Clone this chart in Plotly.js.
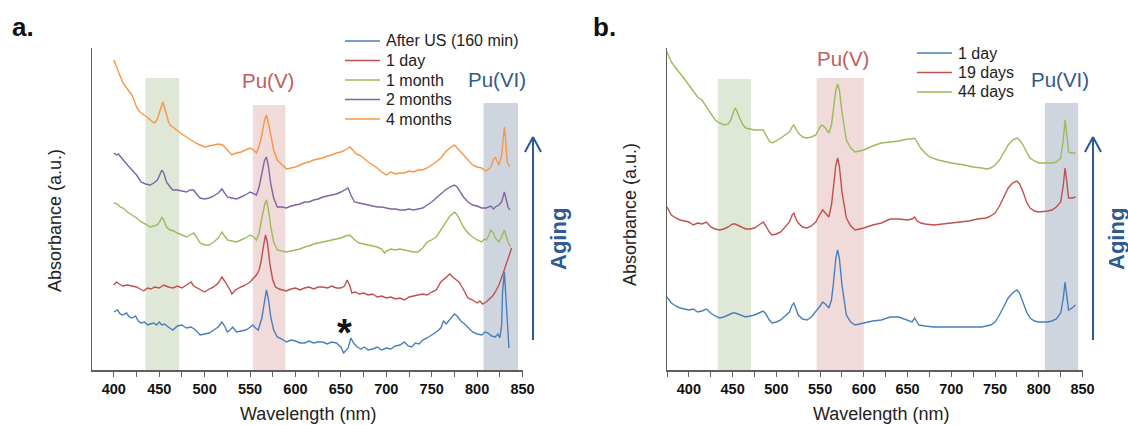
<!DOCTYPE html>
<html>
<head>
<meta charset="utf-8">
<script src="https://cdn.plot.ly/plotly-3.0.1.min.js"></script>
<style>html,body{margin:0;padding:0;background:#fff;}#chart{width:1128px;height:425px;}</style>
</head>
<body>
<div id="chart"></div>
<script>
// ---------- Panel a data (wavelength nm, absorbance a.u., offset stacked) ----------
const aAfterUS_x = [400,404,407,410,414,417,420,424,427,430,434,437,440,444,447,450,453,456,460,465,470,475,480,485,490,495,500,505,510,515,519,522,525,528,531,535,540,545,549,553,556,559,563,566,568,570,573,576,580,585,590,595,600,605,610,615,620,625,630,635,640,645,650,653,656,658,661,664,668,672,676,680,685,690,695,700,705,710,715,720,724,728,732,736,740,745,750,755,760,763,766,770,775,778,782,785,790,795,800,805,809,812,816,820,823,825,827,828,830,832,834,835];
const aAfterUS_y = [58,60,56,55,57,53,52,54,49,47,48,45,46,47,45,48,45,46,43,40,44,45,42,43,40,35,36,37,40,43,48,44,38,40,43,38,39,40,42,45,42,40,52,70,80,72,52,40,33,31,28,30,29,27,27,29,27,28,28,26,28,27,23,17,20,22,32,27,23,21,23,20,21,23,20,22,21,24,25,28,24,23,27,26,30,32,35,38,42,49,46,50,56,54,49,47,42,38,36,35,38,37,34,33,36,32,45,78,98,65,35,22];

const a1day_x = [400,403,406,410,415,420,425,429,433,437,441,445,450,455,460,465,470,475,480,485,488,492,496,500,505,510,515,519,522,525,528,530,534,540,545,550,554,557,560,562,565,567,569,572,575,578,582,586,590,595,600,605,610,615,620,625,630,635,640,645,650,654,657,660,662,666,670,675,680,685,690,695,700,705,710,715,720,725,730,735,740,745,750,755,760,765,768,770,773,776,780,784,787,790,795,800,803,806,810,814,817,820,824,828,831,834,836,838];
const a1day_y = [85,88,86,84,85,84,83,81,79,82,81,83,82,85,83,82,84,82,85,88,84,82,80,78,81,83,87,93,89,85,80,76,80,83,85,88,92,95,100,108,125,135,128,105,90,83,81,80,79,81,82,80,82,83,81,83,83,82,84,82,82,84,90,84,77,78,76,77,75,76,73,74,72,73,71,72,70,73,74,75,76,75,78,80,88,92,95,96,93,91,88,82,77,72,70,67,69,66,68,71,74,78,85,95,103,112,117,122];

const a1month_x = [400,404,407,410,415,420,425,430,435,440,444,448,451,453,455,458,462,466,470,475,480,484,488,491,495,500,505,510,515,519,522,525,530,535,540,545,550,554,557,560,563,566,568,570,573,576,580,585,590,595,600,605,610,615,620,625,630,635,640,645,650,655,660,664,667,670,675,680,685,690,695,698,700,705,710,715,720,725,730,735,740,745,750,755,760,765,770,773,775,778,782,785,790,795,800,805,808,810,813,815,818,820,824,827,830,832,834,837];
const a1month_y = [167,166,163,162,158,155,152,148,146,143,144,145,149,153,150,143,140,139,137,135,133,135,137,133,127,125,125,128,132,138,134,130,129,128,130,132,135,133,130,137,152,165,170,162,142,128,120,119,118,119,120,121,123,124,126,127,128,129,130,131,132,134,135,131,129,127,126,125,124,123,121,117,119,121,120,121,120,119,118,118,122,128,130,133,140,147,154,156,158,155,148,143,137,133,130,128,131,130,135,140,137,132,128,133,140,134,128,123];

const a2months_x = [400,403,405,410,415,420,425,430,435,440,444,448,451,453,455,458,462,465,470,475,480,484,488,491,495,500,505,510,515,519,522,525,530,535,540,545,550,554,557,560,563,566,568,570,573,576,580,585,590,595,600,605,610,615,620,625,630,635,640,645,650,655,658,661,665,670,675,680,685,690,695,700,705,710,715,720,725,730,735,740,745,750,755,760,765,770,775,778,782,785,790,795,800,805,810,815,818,820,824,827,830,832,834,836];
const a2months_y = [217,215,216,210,205,200,195,188,186,185,187,190,196,200,197,188,183,180,180,179,178,180,180,176,172,171,172,174,177,181,177,173,172,171,173,175,178,176,175,183,198,210,213,205,185,172,163,163,162,164,165,166,168,168,170,171,173,174,175,176,178,180,182,175,168,167,166,165,164,163,163,162,161,161,160,160,161,160,161,162,165,168,172,176,180,183,185,183,177,173,168,165,164,162,162,164,161,163,165,168,178,170,163,160];

const a4months_x = [400,403,405,408,410,415,420,423,425,428,430,435,440,443,445,448,450,452,454,456,458,460,462,466,470,475,480,485,490,495,500,505,510,515,520,525,530,535,540,545,550,554,557,560,563,566,568,570,573,576,580,585,590,595,600,605,610,615,620,625,630,635,640,645,650,655,660,663,667,670,675,680,685,690,695,700,705,710,715,720,725,730,735,740,745,750,755,760,765,770,775,778,782,785,790,795,800,805,808,810,813,815,818,820,822,824,827,829,830,831,833,836];
const a4months_y = [310,303,297,292,287,281,275,268,263,259,257,254,250,248,247,251,257,263,268,262,255,249,245,242,239,236,233,230,227,225,223,224,225,226,225,220,215,217,218,220,222,220,217,224,235,250,255,248,232,220,210,205,201,202,203,205,207,208,210,211,212,214,215,217,218,220,223,220,216,215,212,208,205,202,198,195,198,196,197,197,199,198,200,200,202,205,208,212,218,222,225,222,218,215,210,205,203,202,200,199,201,203,210,213,209,205,215,235,243,235,208,203];

// ---------- Panel b data ----------
const b1day_x = [375,380,385,390,395,400,405,410,415,420,425,430,435,440,445,450,453,458,465,470,475,480,485,488,492,495,500,505,510,515,518,520,523,525,530,535,540,545,550,553,556,560,563,565,568,570,572,575,578,580,585,590,595,600,610,620,630,640,650,655,658,660,663,670,680,700,720,735,745,750,755,760,765,770,775,778,782,786,790,795,800,810,815,820,825,828,830,832,834,838,842];
const b1day_y = [73,67,64,62,61,60,61,58,59,61,57,54,52,53,55,57,57,55,53,54,55,57,59,56,50,47,48,50,54,58,65,67,60,55,51,50,53,58,64,68,66,62,70,85,112,120,112,85,65,55,48,45,46,47,49,50,53,53,50,48,52,49,45,44,43,43,43,43,45,48,55,64,72,77,80,77,68,58,52,49,48,48,49,51,57,72,88,75,60,62,65];

const b19days_x = [375,380,385,390,395,400,405,410,415,420,425,430,435,440,445,450,453,458,465,470,475,480,485,488,492,495,500,505,510,515,518,520,523,525,530,535,540,545,550,553,556,560,563,565,568,570,572,575,578,580,585,590,595,600,610,620,630,640,650,655,658,661,665,670,680,690,700,710,720,730,740,745,750,755,760,765,770,775,778,782,786,790,795,800,810,815,820,825,828,830,832,834,838,842];
const b19days_y = [163,155,152,150,149,148,145,147,146,148,143,141,140,141,143,146,146,144,141,141,142,145,148,144,138,135,136,138,143,148,155,157,150,147,143,142,144,148,156,160,157,153,165,182,205,212,204,178,160,152,144,140,141,142,145,147,151,151,150,151,153,149,147,146,145,146,147,148,149,151,152,154,157,164,173,182,187,189,186,178,168,162,159,158,159,160,163,168,185,202,188,172,172,173];

const b44days_x = [375,380,385,390,395,400,405,410,415,420,425,430,435,440,445,448,451,453,455,458,462,465,470,475,480,485,488,492,495,500,505,510,515,518,520,523,525,530,535,540,545,550,552,556,560,563,565,568,570,572,575,578,580,585,590,595,600,610,620,630,640,650,655,658,662,665,670,675,685,700,715,725,735,740,745,750,755,760,765,770,775,778,782,786,790,795,800,810,815,820,825,828,830,832,834,838,842];
const b44days_y = [318,308,302,297,291,285,279,273,270,263,256,250,247,245,246,250,258,262,259,252,245,242,241,240,240,240,235,229,227,229,232,235,238,243,245,240,237,233,232,233,235,243,245,242,237,245,258,280,286,280,258,240,230,222,218,219,220,224,227,228,229,231,231,232,226,222,217,213,210,207,205,203,202,201,202,205,210,218,225,230,232,230,225,218,212,209,207,207,207,208,212,230,250,235,218,217,217];

// ---------- labels / names ----------
const namesA = ['After US (160 min)','1 day','1 month','2 months','4 months'];
const namesB = ['1 day','19 days','44 days'];
const colorsA = ['#4a7ebb','#c0504d','#9bbb59','#8064a2','#f79646'];
const colorsB = ['#4a7ebb','#c0504d','#9bbb59'];
const xTicks = [400,450,500,550,600,650,700,750,800,850];
const xMinorTicks = [375,425,475,525,575,625,675,725,775,825];
// shaded band limits (nm) and tops (a.u.)
const bandsA = [[435,472,292,'#dfe7d6'],[553,589,265,'#f1dada'],[807,845,267,'#cfd5df']];
const bandsB = [[433,471,291,'#dfe7d6'],[546,600,292,'#f1dada'],[807,845,267,'#cfd5df']];

const W = 1128, H = 425;
const px = v => v / W, py = v => (H - v) / H;

const lineW = 1.4;
const seriesA = [[aAfterUS_x,aAfterUS_y],[a1day_x,a1day_y],[a1month_x,a1month_y],[a2months_x,a2months_y],[a4months_x,a4months_y]];
const seriesB = [[b1day_x,b1day_y],[b19days_x,b19days_y],[b44days_x,b44days_y]];
const traces = [];
seriesA.forEach((s,i) => traces.push({type:'scatter', mode:'lines', x:s[0], y:s[1], name:namesA[i], xaxis:'x', yaxis:'y', line:{color:colorsA[i], width:lineW}}));
seriesB.forEach((s,i) => traces.push({type:'scatter', mode:'lines', x:s[0], y:s[1], name:namesB[i], xaxis:'x2', yaxis:'y2', line:{color:colorsB[i], width:lineW}}));

const font = 'Liberation Sans, Arial, sans-serif';
const axisColor = '#5f5f5f';
function xax(domain, range, anchor){
  return {domain, range, anchor, showline:true, linecolor:axisColor, linewidth:1.5,
    ticks:'outside', ticklen:5, tickwidth:1, tickcolor:axisColor, tickvals:xTicks, ticktext:xTicks.map(String),
    minor:{tickvals:xMinorTicks, ticks:'outside', ticklen:5, tickwidth:1, tickcolor:axisColor},
    showgrid:false, zeroline:false, fixedrange:true,
    tickfont:{family:font, size:14.5, color:'#111', weight:'bold'}};
}
function yax(domain, anchor){
  return {domain, range:[0,322], anchor, showline:true, linecolor:axisColor, linewidth:1.5, ticks:'', showticklabels:false,
    showgrid:false, zeroline:false, fixedrange:true};
}
const yDom = [py(370), py(48)];

const shapes = [];
bandsA.forEach(b => shapes.push({type:'rect', xref:'x', yref:'y', x0:b[0], x1:b[1], y0:0, y1:b[2], fillcolor:b[3], line:{width:0}, layer:'below'}));
bandsB.forEach(b => shapes.push({type:'rect', xref:'x2', yref:'y2', x0:b[0], x1:b[1], y0:0, y1:b[2], fillcolor:b[3], line:{width:0}, layer:'below'}));
// aging arrows
const arrowColor = '#2f5b8f';
[533, 1093].forEach(ax => {
  shapes.push({type:'line', xref:'paper', yref:'paper', x0:px(ax), x1:px(ax), y0:py(340), y1:py(137), line:{color:arrowColor, width:2}});
  shapes.push({type:'line', xref:'paper', yref:'paper', x0:px(ax-8), x1:px(ax), y0:py(152), y1:py(137), line:{color:arrowColor, width:2}});
  shapes.push({type:'line', xref:'paper', yref:'paper', x0:px(ax+8), x1:px(ax), y0:py(152), y1:py(137), line:{color:arrowColor, width:2}});
});

const ann = (text, x, y, size, color, extra) => Object.assign({text, xref:'paper', yref:'paper', x:px(x), y:py(y),
  xanchor:'center', yanchor:'middle', showarrow:false, font:{family:font, size, color}}, extra || {});

// manual legends (line sample + text), matching the reference's compact spacing
const legA = {lineX0:345, lineX1:380, textX:384, y0:41, dy:19.5};
const legB = {lineX0:917, lineX1:952, textX:956, y0:53, dy:19.5};
const legendAnn = [];
[[namesA, colorsA, legA],[namesB, colorsB, legB]].forEach(([names, cols, L]) => {
  names.forEach((n,i) => {
    const yy = L.y0 + i*L.dy;
    shapes.push({type:'line', xref:'paper', yref:'paper', x0:px(L.lineX0), x1:px(L.lineX1), y0:py(yy), y1:py(yy), line:{color:cols[i], width:1.5}});
    legendAnn.push(ann(n, L.textX, yy, 16, '#222', {xanchor:'left'}));
  });
});

const puV = '#c45c5c', puVI = '#34598a';
const annotations = [
  ann('<b>a.</b>', 23, 27, 26, '#111'),
  ann('<b>b.</b>', 604, 27, 26, '#111'),
  ann('Pu(V)', 268, 80, 20.5, puV),
  ann('Pu(VI)', 497, 79, 20.5, puVI),
  ann('Pu(V)', 843, 58, 20.5, puV),
  ann('Pu(VI)', 1060, 79, 20.5, puVI),
  ann('<b>*</b>', 344, 333, 38, '#111'),
  ann('<b>Aging</b>', 558, 239, 22, arrowColor, {textangle:-90}),
  ann('<b>Aging</b>', 1116, 239, 22, arrowColor, {textangle:-90}),
  ann('Wavelength (nm)', 308, 414, 18, '#222'),
  ann('Wavelength (nm)', 881, 414, 18, '#222'),
  ann('Absorbance (a.u.)', 55, 221, 18, '#222', {textangle:-90}),
  ann('Absorbance (a.u.)', 630, 214, 18, '#222', {textangle:-90})
].concat(legendAnn);

const layout = {
  width:W, height:H, margin:{l:0, r:0, t:0, b:0}, paper_bgcolor:'#fff', plot_bgcolor:'rgba(0,0,0,0)',
  showlegend:false,
  xaxis: xax([px(92), px(523)], [376, 850.5], 'y'),
  yaxis: yax(yDom, 'x'),
  xaxis2: xax([px(667), px(1083)], [375, 850.5], 'y2'),
  yaxis2: yax(yDom, 'x2'),
  shapes, annotations
};

Plotly.newPlot('chart', traces, layout, {displayModeBar:false, staticPlot:true});
</script>
</body>
</html>
